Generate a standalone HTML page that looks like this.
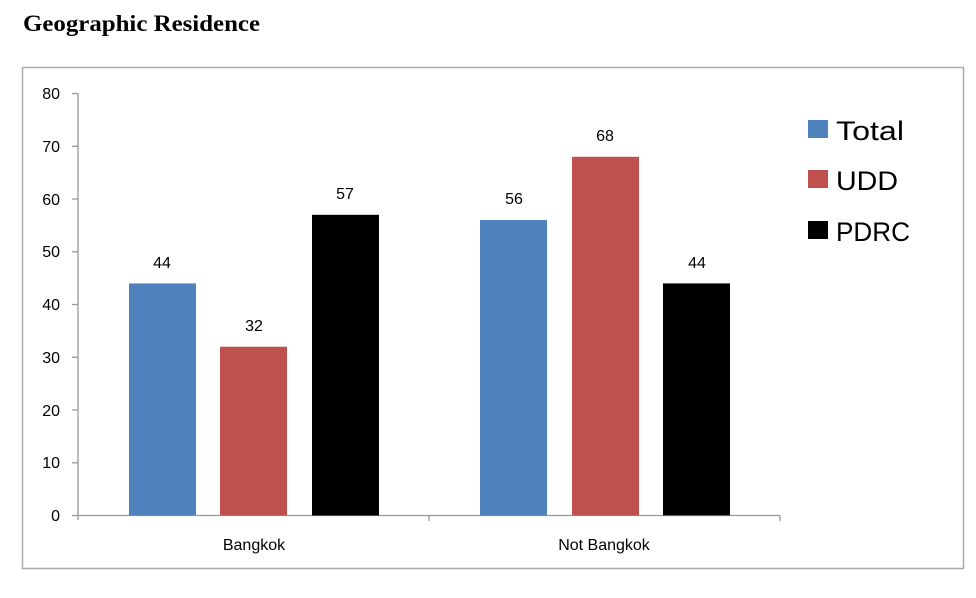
<!DOCTYPE html>
<html><head><meta charset="utf-8"><style>
body{margin:0;background:#fff;}
</style></head><body>
<svg width="976" height="593" xmlns="http://www.w3.org/2000/svg" font-family="'Liberation Sans','DejaVu Sans',sans-serif">
<text x="23" y="31" font-family="'Liberation Serif',serif" font-weight="bold" font-size="23" fill="#000" textLength="237" lengthAdjust="spacingAndGlyphs">Geographic Residence</text>
<rect x="22.5" y="67.5" width="941" height="501" fill="#fff" stroke="#aaa" stroke-width="1.5"/>
<g stroke="#999" stroke-width="1.3">
<line x1="78" y1="93" x2="78" y2="520"/>
<line x1="72" y1="515.5" x2="780" y2="515.5"/>
<line x1="72" y1="93.5" x2="78" y2="93.5"/>
<line x1="72" y1="146.3" x2="78" y2="146.3"/>
<line x1="72" y1="199" x2="78" y2="199"/>
<line x1="72" y1="251.8" x2="78" y2="251.8"/>
<line x1="72" y1="304.5" x2="78" y2="304.5"/>
<line x1="72" y1="357.3" x2="78" y2="357.3"/>
<line x1="72" y1="410" x2="78" y2="410"/>
<line x1="72" y1="462.8" x2="78" y2="462.8"/>
<line x1="429" y1="515.5" x2="429" y2="521"/>
<line x1="780" y1="515.5" x2="780" y2="521"/>
</g>
<g font-size="16" fill="#000" text-anchor="end">
<text x="60" y="99">80</text><text x="60" y="152">70</text><text x="60" y="205">60</text><text x="60" y="257">50</text><text x="60" y="310">40</text><text x="60" y="363">30</text><text x="60" y="416">20</text><text x="60" y="468">10</text><text x="60" y="521">0</text>
</g>
<rect x="129" y="283.4" width="67" height="232" fill="#4f81bd"/>
<rect x="220" y="346.7" width="67" height="168.8" fill="#c0504d"/>
<rect x="312" y="214.8" width="67" height="300.7" fill="#000"/>
<rect x="480" y="220" width="67" height="295.5" fill="#4f81bd"/>
<rect x="572" y="156.8" width="67" height="358.7" fill="#c0504d"/>
<rect x="663" y="283.4" width="67" height="232" fill="#000"/>
<g font-size="16" fill="#000" text-anchor="middle">
<text x="162" y="268">44</text><text x="254" y="331">32</text><text x="345" y="199">57</text>
<text x="514" y="204">56</text><text x="605" y="141">68</text><text x="697" y="268">44</text>
<text x="254" y="550">Bangkok</text><text x="604" y="550">Not Bangkok</text>
</g>
<rect x="808" y="120" width="20" height="18" fill="#4f81bd"/>
<rect x="808" y="170" width="20" height="18" fill="#c0504d"/>
<rect x="808" y="221" width="20" height="18" fill="#000"/>
<g font-size="27" fill="#000">
<text x="836" y="140" textLength="68" lengthAdjust="spacingAndGlyphs">Total</text><text x="836" y="190" textLength="62" lengthAdjust="spacingAndGlyphs">UDD</text><text x="836" y="241" textLength="74" lengthAdjust="spacingAndGlyphs">PDRC</text>
</g>
</svg>
</body></html>
